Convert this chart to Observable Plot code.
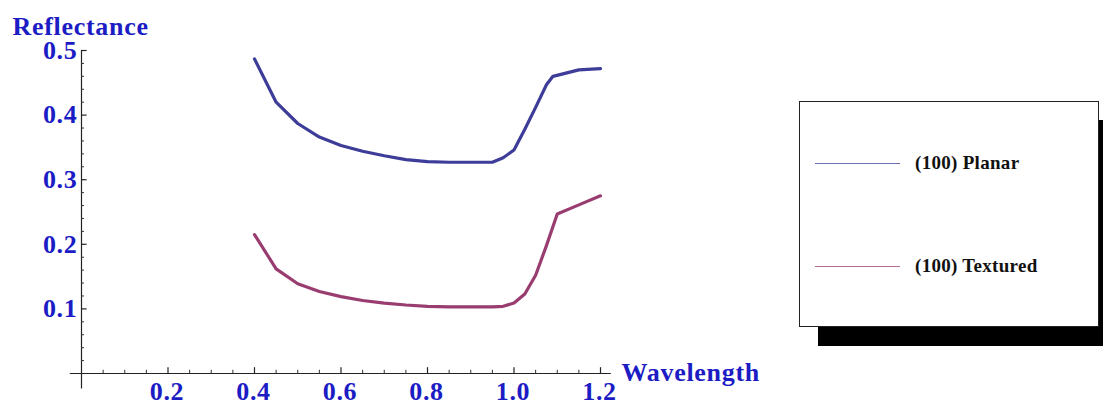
<!DOCTYPE html>
<html>
<head>
<meta charset="utf-8">
<script src="https://cdn.jsdelivr.net/npm/d3@7"></script>
<script src="https://cdn.jsdelivr.net/npm/@observablehq/plot@0.6"></script>
<style>
  html, body { margin: 0; padding: 0; background: #fff; }
  #wrap { position: relative; width: 1103px; height: 400px; overflow: hidden; }
  #legend {
    position: absolute; left: 799px; top: 101px; width: 298px; height: 224px;
    border: 1px solid #222; background: #fff; box-shadow: 19px 19px 0 #000;
    font-family: "Liberation Serif", "Times New Roman", serif; font-weight: bold; font-size: 19px; color: #111;
    letter-spacing: 0.3px;
  }
  .item { position: absolute; left: 15px; display: flex; align-items: center; }
  .item .sw { width: 85px; height: 0; border-top: 1.5px solid; margin-right: 15px; }
</style>
</head>
<body>
<div id="wrap">
  <div id="chart"></div>
  <div id="legend"></div>
</div>
<script>
// Data
const wavelengthPlanar   = [0.40, 0.45, 0.50, 0.55, 0.60, 0.65, 0.70, 0.75, 0.80, 0.85, 0.90, 0.95, 0.975, 1.00, 1.025, 1.05, 1.075, 1.09, 1.15, 1.20];
const reflectancePlanar  = [0.487, 0.420, 0.387, 0.366, 0.353, 0.344, 0.337, 0.331, 0.328, 0.327, 0.327, 0.327, 0.334, 0.346, 0.378, 0.412, 0.447, 0.460, 0.470, 0.472];
const wavelengthTextured = [0.40, 0.45, 0.50, 0.55, 0.60, 0.65, 0.70, 0.75, 0.80, 0.85, 0.90, 0.95, 0.975, 1.00, 1.025, 1.05, 1.075, 1.10, 1.15, 1.20];
const reflectanceTextured= [0.215, 0.162, 0.139, 0.127, 0.119, 0.113, 0.109, 0.106, 0.104, 0.103, 0.103, 0.103, 0.104, 0.109, 0.123, 0.152, 0.198, 0.247, 0.261, 0.275];

const seriesNames = ["(100) Planar", "(100) Textured"];
const seriesColors = ["#3d3d99", "#993d71"];

const xTicks = [0.2, 0.4, 0.6, 0.8, 1.0, 1.2];
const yTicks = [0.1, 0.2, 0.3, 0.4, 0.5];
const xMinor = d3.range(0.05, 1.2001, 0.05).map(v => +v.toFixed(2)).filter(v => !xTicks.some(t => Math.abs(t - v) < 1e-6));
const yMinor = d3.range(0.02, 0.5001, 0.02).map(v => +v.toFixed(2)).filter(v => !yTicks.some(t => Math.abs(t - v) < 1e-6));

const planar = wavelengthPlanar.map((w, i) => ({w, r: reflectancePlanar[i], s: seriesNames[0]}));
const textured = wavelengthTextured.map((w, i) => ({w, r: reflectanceTextured[i], s: seriesNames[1]}));

const blue = "#1c1cc4";
const font = "'Liberation Serif', 'Times New Roman', serif";

const chart = Plot.plot({
  width: 1103,
  height: 400,
  marginLeft: 81,
  marginRight: 503,
  marginTop: 50,
  marginBottom: 27,
  style: {fontFamily: font, background: "#fff", overflow: "visible"},
  x: {domain: [0, 1.2], axis: null},
  y: {domain: [0, 0.5], axis: null},
  marks: [
    // axes lines
    Plot.ruleY([0], {x1: -0.026, x2: 1.225, stroke: "#222", strokeWidth: 1.2}),
    Plot.ruleX([0], {y1: -0.024, y2: 0.5, stroke: "#222", strokeWidth: 1.2}),
    // major ticks
    Plot.ruleX(xTicks, {y1: 0, y2: 0.009, stroke: "#222", strokeWidth: 1.2}),
    Plot.ruleY(yTicks, {x1: 0, x2: 0.013, stroke: "#222", strokeWidth: 1.2}),
    // minor ticks
    Plot.ruleX(xMinor, {y1: 0, y2: 0.005, stroke: "#333", strokeWidth: 1}),
    Plot.ruleY(yMinor, {x1: 0, x2: 0.007, stroke: "#333", strokeWidth: 1}),
    // tick labels
    Plot.text(xTicks, {x: d => d, y: 0, dx: -1, dy: 18, text: d => d.toFixed(1), fill: blue, fontSize: 26, fontWeight: "bold", fontFamily: font, style: "letter-spacing:1px"}),
    Plot.text(yTicks, {x: 0, y: d => d, dx: -4, textAnchor: "end", text: d => d.toFixed(1), fill: blue, fontSize: 26, fontWeight: "bold", fontFamily: font}),
    // axis labels
    Plot.text(["Reflectance"], {frameAnchor: "top-left", lineAnchor: "bottom", dx: -69, dy: -15.5, textAnchor: "start", fill: blue, fontSize: 26, fontWeight: "bold", fontFamily: font}),
    Plot.text(["Wavelength"], {x: 1.2, y: 0, dx: 21, dy: -1, textAnchor: "start", fill: blue, fontSize: 26, fontWeight: "bold", fontFamily: font}),
    // data lines
    Plot.line(planar, {x: "w", y: "r", stroke: seriesColors[0], strokeWidth: 3.2}),
    Plot.line(textured, {x: "w", y: "r", stroke: seriesColors[1], strokeWidth: 3.2})
  ]
});
// slightly widen the bold blue labels to match the reference letter spacing
d3.select(chart).selectAll("text").attr("letter-spacing", "0.7px");
document.getElementById("chart").appendChild(chart);

// Legend
const legend = document.getElementById("legend");
const itemTops = [61, 164];
seriesNames.forEach((name, i) => {
  const it = document.createElement("div");
  it.className = "item";
  it.style.top = (itemTops[i] - 12) + "px";
  it.style.height = "24px";
  const sw = document.createElement("span");
  sw.className = "sw";
  sw.style.borderTopColor = seriesColors[i];
  sw.style.opacity = "0.75";
  const lab = document.createElement("span");
  lab.textContent = name;
  it.appendChild(sw);
  it.appendChild(lab);
  legend.appendChild(it);
});
</script>
</body>
</html>
